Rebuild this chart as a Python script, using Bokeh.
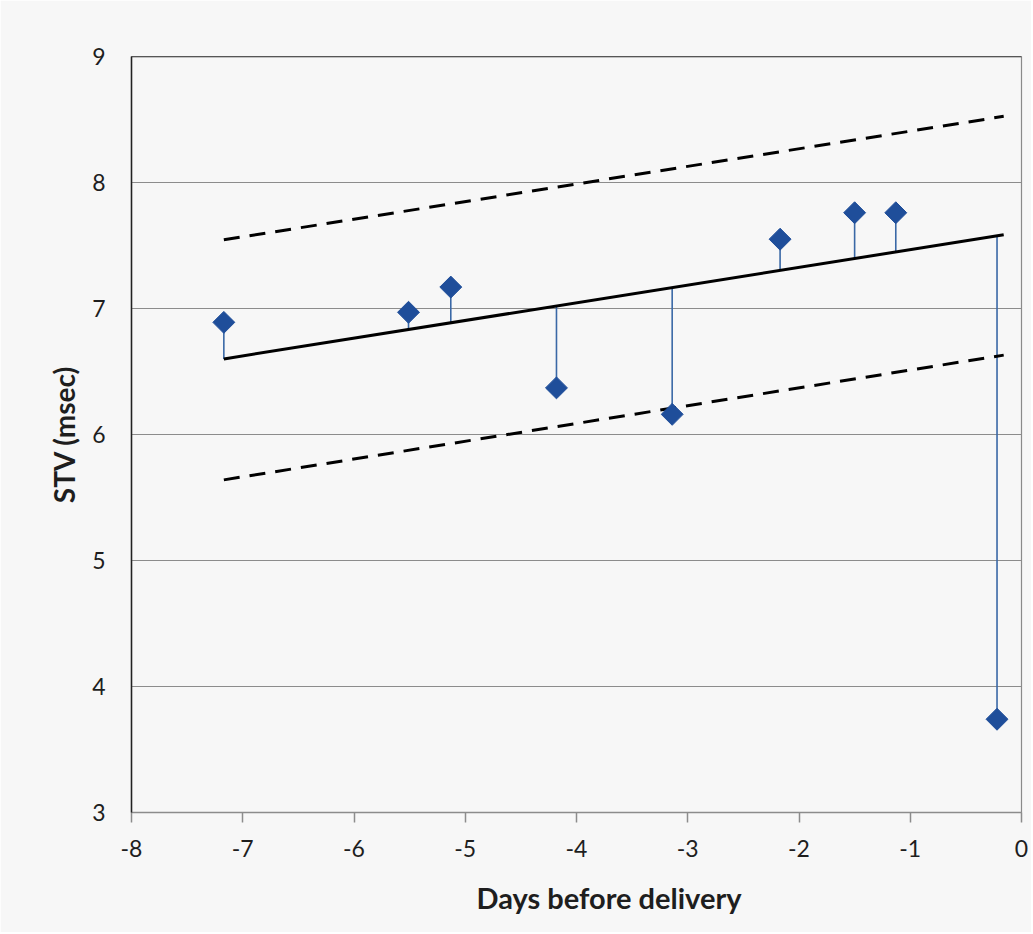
import numpy as np
from bokeh.plotting import figure
from bokeh.models import Span, FixedTicker, Title
from bokeh.embed import file_html
from bokeh.resources import INLINE

# Observed STV values
days = [-7.17, -5.51, -5.13, -4.18, -3.14, -2.17, -1.50, -1.13, -0.22]
stv = [6.89, 6.97, 7.17, 6.37, 6.16, 7.55, 7.76, 7.76, 3.74]

# Regression line and prediction band (end points)
fit_x = [-7.17, -0.16]
fit_y = [6.60, 7.585]
upper_y = [7.545, 8.525]
lower_y = [5.64, 6.63]

x_ticks = [-8, -7, -6, -5, -4, -3, -2, -1, 0]
x_tick_labels = ["-8", "-7", "-6", "-5", "-4", "-3", "-2", "-1", "0"]
y_ticks = [3, 4, 5, 6, 7, 8, 9]

FONT = "Lato"
BG = "#f7f7f7"
TXT = "#1e1e1e"

p = figure(output_backend="svg", toolbar_location=None,
           frame_width=890, frame_height=756,
           x_range=(-8, 0), y_range=(3, 9),
           min_border_left=131, min_border_top=56, min_border_right=10,
           min_border_bottom=118,
           background_fill_color=BG, border_fill_color=BG,
           outline_line_color="#8a8a8a", outline_line_width=1.2)

# Fitted values at each observation (on the regression line)
fitted = np.interp(days, fit_x, fit_y)

p.segment(x0=days, y0=stv, x1=days, y1=fitted, line_color="#3a68a6", line_width=1.6)
p.line(fit_x, fit_y, line_color="black", line_width=3)
p.line(fit_x, upper_y, line_color="black", line_width=3, line_dash="16 10")
p.line(fit_x, lower_y, line_color="black", line_width=3, line_dash="16 10")
p.scatter(days, stv, marker="square", angle=np.pi / 4, size=15.5,
          fill_color="#1f4e9a", line_color="#1f4e9a")

p.add_layout(Span(location=9, dimension="width", line_color="#222222", line_width=1.6))

p.xgrid.grid_line_color = None
p.ygrid.grid_line_color = "#8c8c8c"
p.ygrid.grid_line_width = 1
p.ygrid.ticker = FixedTicker(ticks=y_ticks)

xa = p.xaxis[0]
xa.ticker = FixedTicker(ticks=x_ticks)
xa.major_label_overrides = {t: l for t, l in zip(x_ticks, x_tick_labels)}
xa.axis_line_color = "#8c8c8c"
xa.axis_line_width = 1.5
xa.major_tick_line_color = "#8c8c8c"
xa.major_tick_line_width = 1.5
xa.major_tick_out = 10
xa.major_tick_in = 0
xa.minor_tick_line_color = None
xa.major_label_text_font = FONT
xa.major_label_text_font_size = "23px"
xa.major_label_text_color = TXT
xa.major_label_standoff = 17

ya = p.yaxis[0]
ya.ticker = FixedTicker(ticks=y_ticks)
ya.axis_line_color = "#222222"
ya.axis_line_width = 1.5
ya.major_tick_line_color = None
ya.major_tick_out = 0
ya.major_tick_in = 0
ya.minor_tick_line_color = None
ya.major_label_text_font = FONT
ya.major_label_text_font_size = "23px"
ya.major_label_text_color = TXT
ya.major_label_standoff = 26
ya.axis_label = "STV (msec)"
ya.axis_label_text_font = FONT
ya.axis_label_text_font_style = "bold"
ya.axis_label_text_font_size = "28px"
ya.axis_label_text_color = TXT
ya.axis_label_standoff = 8

p.add_layout(Title(text="Days before delivery", align="left", offset=345,
                   text_font=FONT, text_font_style="bold", text_font_size="29px",
                   text_color=TXT, standoff=36), "below")

open("out.html", "w").write(file_html(p, INLINE))
